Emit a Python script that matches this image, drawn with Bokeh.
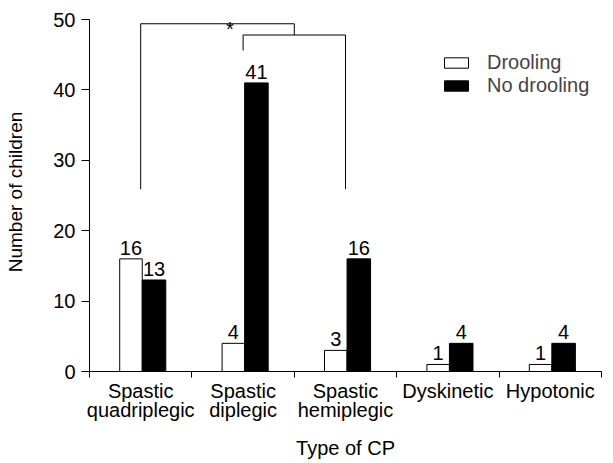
from bokeh.plotting import figure
from bokeh.models import ColumnDataSource, FixedTicker, Legend, LegendItem, Range1d, Label
from bokeh.core.properties import value
from bokeh.embed import file_html
from bokeh.resources import INLINE

# ---- data ----
categories = ["Spastic\nquadriplegic", "Spastic\ndiplegic", "Spastic\nhemiplegic", "Dyskinetic", "Hypotonic"]
drooling = [16, 4, 3, 1, 1]
no_drooling = [13, 41, 16, 4, 4]
y_ticks = [0, 10, 20, 30, 40, 50]
series_names = ["Drooling", "No drooling"]

# significance bracket (value levels)
bracket_top = 49.4
sub_bracket_top = 47.8
leg_low = 25.9
leg_diplegic = 45.6

FONT = "Liberation Sans"
n = len(categories)
centers = [i + 0.5 for i in range(n)]
d_off, nd_off = -0.095, 0.13

src = ColumnDataSource(dict(
    xd=[c + d_off for c in centers],
    xn=[c + nd_off for c in centers],
    drooling=drooling,
    no_drooling=no_drooling,
    dl=[str(v) for v in drooling],
    nl=[str(v) for v in no_drooling],
))

p = figure(width=613, height=463, x_range=Range1d(0, n), y_range=Range1d(0, 51),
           output_backend="svg", toolbar_location=None,
           min_border_left=89, min_border_right=12, min_border_top=12, min_border_bottom=92)
p.outline_line_color = None
p.xgrid.grid_line_color = None
p.ygrid.grid_line_color = None
p.background_fill_color = "white"

r1 = p.vbar(x="xd", top="drooling", width=0.22, source=src,
            fill_color="white", line_color="black", line_width=1)
r2 = p.vbar(x="xn", top="no_drooling", width=0.23, source=src,
            fill_color="black", line_color="black", line_width=1)

p.text(x="xd", y="drooling", text="dl", source=src, text_align="center",
       text_baseline="bottom", y_offset=-4, text_font=value(FONT),
       text_font_size="20px", text_color="black")
p.text(x="xn", y="no_drooling", text="nl", source=src, text_align="center",
       text_baseline="bottom", y_offset=-4, text_font=value(FONT),
       text_font_size="20px", text_color="black")

# brackets
c0, c1, c2 = centers[0], centers[1], centers[2]
mid = (c1 + c2) / 2
p.line(x=[c0, c0, mid, mid], y=[leg_low, bracket_top, bracket_top, sub_bracket_top],
       line_color="black", line_width=1)
p.line(x=[c1, c1, c2, c2], y=[leg_diplegic, sub_bracket_top, sub_bracket_top, leg_low],
       line_color="black", line_width=1)
p.add_layout(Label(x=c0 + (mid - c0) * 0.58, y=bracket_top, text="*", text_align="center",
                   text_baseline="alphabetic", y_offset=-5, text_font=FONT,
                   text_font_size="20px", text_color="black"))

# x axis
xa = p.xaxis[0]
xa.ticker = FixedTicker(ticks=centers, minor_ticks=list(range(n + 1)))
xa.major_label_overrides = {c: lab for c, lab in zip(centers, categories)}
xa.major_tick_line_color = None
xa.major_tick_out = 0
xa.major_tick_in = 0
xa.minor_tick_out = 6
xa.minor_tick_in = 0
xa.minor_tick_line_color = "black"
xa.bounds = (0, n)
xa.major_label_standoff = 2
xa.major_label_text_font = FONT
xa.major_label_text_font_size = "20px"
xa.major_label_text_color = "black"
xa.major_label_text_line_height = 0.9
xa.axis_line_color = "black"
xa.axis_label = "Type of CP"
xa.axis_label_text_font = FONT
xa.axis_label_text_font_size = "20px"
xa.axis_label_text_font_style = "normal"
xa.axis_label_text_color = "black"
xa.axis_label_standoff = 13

# y axis
ya = p.yaxis[0]
ya.ticker = FixedTicker(ticks=y_ticks, minor_ticks=[])
ya.major_tick_out = 8
ya.major_tick_in = 0
ya.bounds = (0, 50)
ya.major_label_standoff = 6
ya.major_label_text_font = FONT
ya.major_label_text_font_size = "20px"
ya.major_label_text_color = "black"
ya.axis_label = "Number of children"
ya.axis_label_text_font = FONT
ya.axis_label_text_font_size = "19px"
ya.axis_label_text_font_style = "normal"
ya.axis_label_text_color = "black"
ya.axis_label_standoff = 24
ya.axis_line_color = "black"

legend = Legend(items=[LegendItem(label=series_names[0], renderers=[r1]),
                       LegendItem(label=series_names[1], renderers=[r2])],
                location=(352, 274), glyph_width=30, glyph_height=13,
                label_standoff=16, label_text_font=FONT, label_text_font_size="20px",
                label_height=23, spacing=0, padding=0, margin=0,
                border_line_color=None, background_fill_alpha=0)
p.add_layout(legend)

open("out.html", "w").write(file_html(p, INLINE))
